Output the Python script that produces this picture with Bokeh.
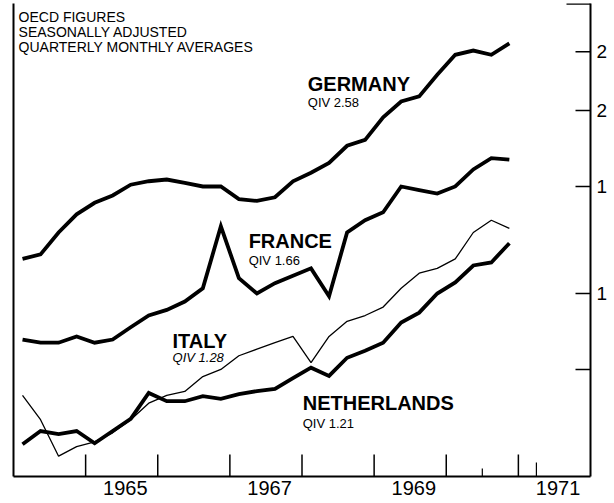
import math
from bokeh.plotting import figure
from bokeh.models import Range1d, LogAxis, LinearAxis, FixedTicker, ColumnDataSource
from bokeh.core.properties import value
from bokeh.embed import file_html
from bokeh.resources import INLINE

# ---- data (quarterly monthly averages, seasonally adjusted) ----
periods = ["1964Q1", "1964Q2", "1964Q3", "1964Q4",
           "1965Q1", "1965Q2", "1965Q3", "1965Q4",
           "1966Q1", "1966Q2", "1966Q3", "1966Q4",
           "1967Q1", "1967Q2", "1967Q3", "1967Q4",
           "1968Q1", "1968Q2", "1968Q3", "1968Q4",
           "1969Q1", "1969Q2", "1969Q3", "1969Q4",
           "1970Q1", "1970Q2", "1970Q3", "1970Q4"]

germany = [1.14, 1.16, 1.26, 1.35, 1.41, 1.45, 1.51, 1.53, 1.54, 1.52, 1.50, 1.50,
           1.43, 1.42, 1.44, 1.53, 1.58, 1.64, 1.75, 1.79, 1.95, 2.07, 2.11, 2.29,
           2.47, 2.51, 2.47, 2.58]
france = [0.84, 0.83, 0.83, 0.85, 0.83, 0.84, 0.88, 0.92, 0.94, 0.97, 1.02, 1.29,
          1.06, 1.00, 1.04, 1.07, 1.10, 0.99, 1.26, 1.32, 1.36, 1.50, 1.48, 1.46,
          1.50, 1.60, 1.67, 1.66]
italy = [0.68, 0.62, 0.54, 0.56, 0.57, 0.59, 0.62, 0.66, 0.68, 0.69, 0.73, 0.75,
         0.79, 0.81, 0.83, 0.85, 0.77, 0.85, 0.90, 0.92, 0.95, 1.02, 1.08, 1.10,
         1.14, 1.26, 1.32, 1.28]
netherlands = [0.565, 0.594, 0.587, 0.594, 0.567, 0.594, 0.622, 0.686, 0.665, 0.665, 0.678, 0.671,
               0.683, 0.691, 0.697, 0.726, 0.755, 0.732, 0.784, 0.805, 0.830, 0.896, 0.930, 1.000,
               1.043, 1.112, 1.125, 1.21]

country_names = ["GERMANY", "FRANCE", "ITALY", "NETHERLANDS"]
qiv_labels = ["QIV 2.58", "QIV 1.66", "QIV 1.28", "QIV 1.21"]
header_lines = ["OECD FIGURES", "SEASONALLY  ADJUSTED", "QUARTERLY  MONTHLY  AVERAGES"]

year_ticks = [1965, 1966, 1967, 1968, 1969, 1970, 1971]
extra_ticks = [1970.5, 1971.25]
year_labels = ["1965", "1967", "1969", "1971"]
y_ticks = [0.75, 1.0, 1.5, 2.0, 2.5]
y_tick_labels = ["", "1", "1", "2", "2"]

X0, X1 = 1964, 1972
Y0, Y1 = 0.5, 3.0

# convert period labels to mid-quarter time values
t = [int(s[:4]) + (int(s[5]) - 0.5) / 4.0 for s in periods]

FONT_NAME = "Liberation Sans"
FONT = value(FONT_NAME)

p = figure(width=614, height=503,
           x_range=Range1d(X0, X1), y_range=Range1d(Y0, Y1),
           y_axis_type="log", x_axis_location=None, y_axis_location=None,
           output_backend="svg", toolbar_location=None,
           min_border_left=13, min_border_right=24, min_border_top=3, min_border_bottom=27,
           background_fill_color="white", border_fill_color="white")
p.outline_line_color = None
p.xgrid.visible = False
p.ygrid.visible = False

src = ColumnDataSource(dict(t=t, germany=germany, france=france, italy=italy, netherlands=netherlands))

for col in ["germany", "france", "netherlands"]:
    p.line("t", col, source=src, line_color="black", line_width=3.8, line_join="miter")
p.line("t", "italy", source=src, line_color="black", line_width=1.3)

# left frame line
left_axis = LogAxis(ticker=FixedTicker(ticks=[]), axis_line_width=2, axis_line_color="black",
                    major_tick_in=0, major_tick_out=0, minor_tick_in=0, minor_tick_out=0,
                    major_label_text_font_size="0px", major_label_standoff=0)
p.add_layout(left_axis, "left")

# right value axis (labels); inward tick marks drawn as clipped dash markers
right_axis = LogAxis(ticker=FixedTicker(ticks=y_ticks), axis_line_width=2, axis_line_color="black",
                     major_tick_in=0, major_tick_out=0,
                     minor_tick_in=0, minor_tick_out=0,
                     major_label_overrides={v: s for v, s in zip(y_ticks, y_tick_labels)},
                     major_label_text_font=FONT_NAME, major_label_text_font_size="19px",
                     major_label_text_color="black", major_label_standoff=6)
p.add_layout(right_axis, "right")

# bottom time axis: labels at mid-year
label_pos = [float(s) + 0.55 for s in year_labels]
bottom_axis = LinearAxis(ticker=FixedTicker(ticks=label_pos),
                         axis_line_width=2, axis_line_color="black",
                         major_tick_in=0, major_tick_out=0,
                         minor_tick_in=0, minor_tick_out=0,
                         major_label_overrides={v: s for v, s in zip(label_pos, year_labels)},
                         major_label_text_font=FONT_NAME, major_label_text_font_size="20px",
                         major_label_text_color="black", major_label_standoff=4)
p.add_layout(bottom_axis, "below")

# inward tick marks (markers are clipped at the frame edge, so half shows)
p.scatter(x=year_ticks, y=[Y0] * len(year_ticks), marker="dash", angle=math.pi / 2,
          size=44, line_color="black", line_width=1.5)
p.scatter(x=extra_ticks, y=[Y0] * len(extra_ticks), marker="dash", angle=math.pi / 2,
          size=[16, 28], line_color="black", line_width=1.2)
p.scatter(x=[X1] * len(y_ticks), y=y_ticks, marker="dash", size=30,
          line_color="black", line_width=1.5)
p.scatter(x=[X1], y=[Y1], marker="dash", size=48, line_color="black", line_width=2.5)

# country labels
name_x = [1968.08, 1967.26, 1966.205, 1968.01]
name_y = [2.208, 1.219, 0.836, 0.660]
qiv_y = [2.061, 1.134, 0.784, 0.612]
p.text(x=name_x, y=name_y, text=country_names, text_font=FONT, text_font_size="20px",
       text_font_style="bold", text_baseline="alphabetic", text_align="left", text_color="black")
p.text(x=name_x, y=qiv_y, text=qiv_labels, text_font=FONT, text_font_size="13px",
       text_font_style=["normal", "normal", "italic", "normal"],
       text_baseline="alphabetic", text_align="left", text_color="black")

# header note
p.text(x=[1964.07] * 3, y=[2.848, 2.690, 2.541], text=header_lines, text_font=FONT,
       text_font_size="14px", text_baseline="alphabetic", text_align="left", text_color="black")

open("out.html", "w").write(file_html(p, INLINE))
